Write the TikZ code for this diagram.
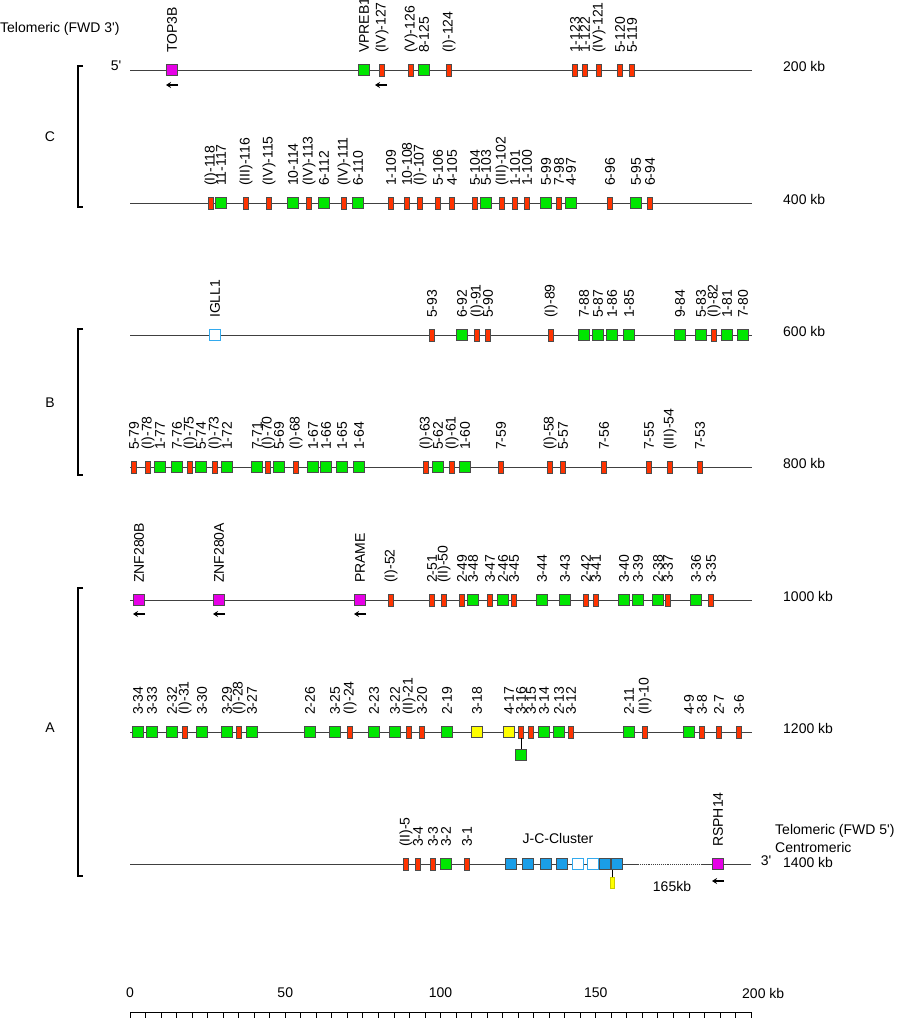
\documentclass[tikz,border=0pt]{standalone}
\usepackage{fontspec}
\setmainfont{Liberation Sans}
\usetikzlibrary{arrows.meta}

\definecolor{cRed}{HTML}{FF3300}
\definecolor{cGreen}{HTML}{00E600}
\definecolor{cMag}{HTML}{E600E6}
\definecolor{cYel}{HTML}{FFFF00}
\definecolor{cBlue}{HTML}{1A9EE8}
\definecolor{cSky}{HTML}{33AAEE}
\definecolor{cOlive}{HTML}{6B6B1E}

\newcommand{\labfont}{\fontsize{14}{16}\selectfont}

\tikzset{
  gbox/.style={draw=black!70, line width=0.8pt, minimum width=11pt,
               minimum height=11pt, inner sep=0pt},
  vred/.style={gbox, fill=cRed, minimum width=5pt, minimum height=12pt},
  vgreen/.style={gbox, fill=cGreen},
  vmag/.style={gbox, fill=cMag},
  vyel/.style={gbox, fill=cYel},
  vblue/.style={gbox, fill=cBlue},
  vopen/.style={gbox, draw=cSky, fill=white},
  glabel/.style={rotate=90, anchor=west, inner sep=0pt},
  backbone/.style={draw=black!75, line width=0.9pt},
  garrow/.style={-{Stealth[length=5pt,width=6pt]}, line width=1.2pt},
  bracket/.style={line width=1.3pt},
}

% gene box with its rotated name above
\newcommand{\Gene}[5]{%
  \node[#1] (#4) at (#2,#3) {};
  \node[glabel] (#4-lab) at (#2,#3-17) {#5};}
% reverse strand arrow under a gene
\newcommand{\Strand}[3]{%
  \coordinate (#3-s) at (#1+6,#2);
  \coordinate (#3-e) at (#1-6,#2);
  \draw[garrow] (#3-s) -- (#3-e);}

\begin{document}
\begin{tikzpicture}[x=1pt, y=-1pt, font=\labfont]
\useasboundingbox (0,0) rectangle (898,1018);

% 200 kb
\node[anchor=west, inner sep=0pt] (telo3) at (0,29) {Telomeric (FWD 3\textquotesingle)};
\node[inner sep=0pt] (p5) at (116,66) {5\textquotesingle};
\coordinate (r1a) at (130,70);
\coordinate (r1b) at (752,70);
\draw[backbone] (r1a) -- (r1b);
\node[anchor=west, inner sep=0pt] (kb200) at (783,66) {200 kb};
\Gene{vmag}{172}{70}{top3b}{TOP3B}
\Gene{vgreen}{364}{70}{vpreb1}{VPREB1}
\Gene{vred}{382}{70}{g127}{(IV)-127}
\Gene{vred}{411}{70}{g126}{(V)-126}
\Gene{vgreen}{424}{70}{g125}{8-125}
\Gene{vred}{449}{70}{g124}{(I)-124}
\Gene{vred}{575}{70}{g123}{1-123}
\Gene{vred}{585}{70}{g122}{1-122}
\Gene{vred}{599}{70}{g121}{(IV)-121}
\Gene{vred}{620}{70}{g120}{5-120}
\Gene{vred}{632}{70}{g119}{5-119}
\Strand{172}{85}{top3b}
\Strand{381}{85}{vpreb1}

% 400 kb
\coordinate (r2a) at (130,203);
\coordinate (r2b) at (752,203);
\draw[backbone] (r2a) -- (r2b);
\node[anchor=west, inner sep=0pt] (kb400) at (783,199) {400 kb};
\Gene{vred}{211}{203}{g118}{(I)-118}
\Gene{vgreen}{221}{203}{g117}{11-117}
\Gene{vred}{246}{203}{g116}{(III)-116}
\Gene{vred}{269}{203}{g115}{(IV)-115}
\Gene{vgreen}{293}{203}{g114}{10-114}
\Gene{vred}{309}{203}{g113}{(IV)-113}
\Gene{vgreen}{324}{203}{g112}{6-112}
\Gene{vred}{344}{203}{g111}{(IV)-111}
\Gene{vgreen}{358}{203}{g110}{6-110}
\Gene{vred}{391}{203}{g109}{1-109}
\Gene{vred}{407}{203}{g108}{10-108}
\Gene{vred}{420}{203}{g107}{(I)-107}
\Gene{vred}{438}{203}{g106}{5-106}
\Gene{vred}{452}{203}{g105}{4-105}
\Gene{vred}{475}{203}{g104}{5-104}
\Gene{vgreen}{486}{203}{g103}{5-103}
\Gene{vred}{502}{203}{g102}{(III)-102}
\Gene{vred}{515}{203}{g101}{1-101}
\Gene{vred}{527}{203}{g100}{1-100}
\Gene{vgreen}{546}{203}{g99}{5-99}
\Gene{vred}{559}{203}{g98}{7-98}
\Gene{vgreen}{571}{203}{g97}{4-97}
\Gene{vred}{610}{203}{g96}{6-96}
\Gene{vgreen}{636}{203}{g95}{5-95}
\Gene{vred}{650}{203}{g94}{6-94}

% 600 kb
\coordinate (r3a) at (130,335);
\coordinate (r3b) at (752,335);
\draw[backbone] (r3a) -- (r3b);
\node[anchor=west, inner sep=0pt] (kb600) at (783,331) {600 kb};
\Gene{vopen}{215}{335}{igll1}{IGLL1}
\Gene{vred}{432}{335}{g93}{5-93}
\Gene{vgreen}{462}{335}{g92}{6-92}
\Gene{vred}{477}{335}{g91}{(I)-91}
\Gene{vred}{488}{335}{g90}{5-90}
\Gene{vred}{551}{335}{g89}{(I)-89}
\Gene{vgreen}{584}{335}{g88}{7-88}
\Gene{vgreen}{598}{335}{g87}{5-87}
\Gene{vgreen}{612}{335}{g86}{1-86}
\Gene{vgreen}{629}{335}{g85}{1-85}
\Gene{vgreen}{680}{335}{g84}{9-84}
\Gene{vgreen}{701}{335}{g83}{5-83}
\Gene{vred}{714}{335}{g82}{(I)-82}
\Gene{vgreen}{727}{335}{g81}{1-81}
\Gene{vgreen}{743}{335}{g80}{7-80}

% 800 kb
\coordinate (r4a) at (130,467);
\coordinate (r4b) at (752,467);
\draw[backbone] (r4a) -- (r4b);
\node[anchor=west, inner sep=0pt] (kb800) at (783,463) {800 kb};
\Gene{vred}{134}{467}{g79}{5-79}
\Gene{vred}{148}{467}{g78}{(I)-78}
\Gene{vgreen}{160}{467}{g77}{1-77}
\Gene{vgreen}{177}{467}{g76}{7-76}
\Gene{vred}{190}{467}{g75}{(I)-75}
\Gene{vgreen}{201}{467}{g74}{5-74}
\Gene{vred}{215}{467}{g73}{(I)-73}
\Gene{vgreen}{227}{467}{g72}{1-72}
\Gene{vgreen}{257}{467}{g71}{7-71}
\Gene{vred}{268}{467}{g70}{(I)-70}
\Gene{vgreen}{279}{467}{g69}{5-69}
\Gene{vred}{296}{467}{g68}{(I)-68}
\Gene{vgreen}{313}{467}{g67}{1-67}
\Gene{vgreen}{326}{467}{g66}{1-66}
\Gene{vgreen}{342}{467}{g65}{1-65}
\Gene{vgreen}{359}{467}{g64}{1-64}
\Gene{vred}{426}{467}{g63}{(I)-63}
\Gene{vgreen}{438}{467}{g62}{5-62}
\Gene{vred}{452}{467}{g61}{(I)-61}
\Gene{vgreen}{465}{467}{g60}{1-60}
\Gene{vred}{501}{467}{g59}{7-59}
\Gene{vred}{550}{467}{g58}{(I)-58}
\Gene{vred}{563}{467}{g57}{5-57}
\Gene{vred}{604}{467}{g56}{7-56}
\Gene{vred}{649}{467}{g55}{7-55}
\Gene{vred}{670}{467}{g54}{(III)-54}
\Gene{vred}{700}{467}{g53}{7-53}

% 1000 kb
\coordinate (r5a) at (130,600);
\coordinate (r5b) at (752,600);
\draw[backbone] (r5a) -- (r5b);
\node[anchor=west, inner sep=0pt] (kb1000) at (783,596) {1000 kb};
\Gene{vmag}{139}{600}{znfb}{ZNF280B}
\Gene{vmag}{219}{600}{znfa}{ZNF280A}
\Gene{vmag}{360}{600}{prame}{PRAME}
\Gene{vred}{391}{600}{g52}{(I)-52}
\Gene{vred}{432}{600}{g51}{2-51}
\Gene{vred}{444}{600}{g50}{(II)-50}
\Gene{vred}{462}{600}{g49}{2-49}
\Gene{vgreen}{473}{600}{g48}{3-48}
\Gene{vred}{490}{600}{g47}{3-47}
\Gene{vgreen}{503}{600}{g46}{2-46}
\Gene{vred}{514}{600}{g45}{3-45}
\Gene{vgreen}{542}{600}{g44}{3-44}
\Gene{vgreen}{565}{600}{g43}{3-43}
\Gene{vred}{586}{600}{g42}{2-42}
\Gene{vred}{596}{600}{g41}{3-41}
\Gene{vgreen}{624}{600}{g40}{3-40}
\Gene{vgreen}{638}{600}{g39}{3-39}
\Gene{vgreen}{658}{600}{g38}{2-38}
\Gene{vred}{668}{600}{g37}{3-37}
\Gene{vgreen}{696}{600}{g36}{3-36}
\Gene{vred}{711}{600}{g35}{3-35}
\Strand{139}{614}{znfb}
\Strand{219}{614}{znfa}
\Strand{360}{614}{prame}

% 1200 kb
\coordinate (r6a) at (130,732);
\coordinate (r6b) at (752,732);
\draw[backbone] (r6a) -- (r6b);
\node[anchor=west, inner sep=0pt] (kb1200) at (783,728) {1200 kb};
\Gene{vgreen}{138}{732}{g34}{3-34}
\Gene{vgreen}{152}{732}{g33}{3-33}
\Gene{vgreen}{172}{732}{g32}{2-32}
\Gene{vred}{185}{732}{g31}{(I)-31}
\Gene{vgreen}{202}{732}{g30}{3-30}
\Gene{vgreen}{227}{732}{g29}{3-29}
\Gene{vred}{239}{732}{g28}{(I)-28}
\Gene{vgreen}{252}{732}{g27}{3-27}
\Gene{vgreen}{310}{732}{g26}{2-26}
\Gene{vgreen}{335}{732}{g25}{3-25}
\Gene{vred}{350}{732}{g24}{(I)-24}
\Gene{vgreen}{374}{732}{g23}{2-23}
\Gene{vgreen}{395}{732}{g22}{3-22}
\Gene{vred}{409}{732}{g21}{(II)-21}
\Gene{vred}{422}{732}{g20}{3-20}
\Gene{vgreen}{447}{732}{g19}{2-19}
\Gene{vyel}{477}{732}{g18}{3-18}
\Gene{vyel}{509}{732}{g17}{4-17}
\Gene{vred}{521}{732}{g16}{3-16}
\Gene{vred}{531}{732}{g15}{3-15}
\Gene{vgreen}{544}{732}{g14}{3-14}
\Gene{vgreen}{559}{732}{g13}{2-13}
\Gene{vred}{571}{732}{g12}{3-12}
\Gene{vgreen}{629}{732}{g11}{2-11}
\Gene{vred}{645}{732}{g10}{(II)-10}
\Gene{vgreen}{689}{732}{g9}{4-9}
\Gene{vred}{702}{732}{g8}{3-8}
\Gene{vred}{719}{732}{g7}{2-7}
\Gene{vred}{739}{732}{g6}{3-6}
\node[vgreen] (g16b) at (521,755) {};
\draw[line width=0.8pt] (g16) -- (g16b);

% 1400 kb
\coordinate (r7a) at (130,864);
\coordinate (r7b) at (638,864);
\coordinate (r7c) at (701,864);
\coordinate (r7d) at (751,864);
\draw[backbone] (r7a) -- (r7b);
\draw[backbone, densely dotted, line width=0.6pt] (r7b) -- (r7c);
\draw[backbone] (r7c) -- (r7d);
\node[anchor=west, inner sep=0pt] (telo5) at (775,831) {Telomeric (FWD 5\textquotesingle)};
\node[anchor=west, inner sep=0pt] (centro) at (775,847) {Centromeric};
\node[inner sep=0pt] (p3) at (766,861) {3\textquotesingle};
\node[anchor=west, inner sep=0pt] (kb1400) at (783,862) {1400 kb};
\Gene{vred}{406}{864}{g5}{(II)-5}
\Gene{vred}{418}{864}{g4}{3-4}
\Gene{vred}{433}{864}{g3}{3-3}
\Gene{vgreen}{446}{864}{g2}{3-2}
\Gene{vred}{467}{864}{g1}{3-1}
\node[gbox, fill=cOlive, minimum width=3pt] (jc0) at (507,864) {};
\node[vblue] (jc1) at (511,864) {};
\node[vblue] (jc2) at (528,864) {};
\node[vblue] (jc3) at (546,864) {};
\node[vblue] (jc4) at (562,864) {};
\node[vopen] (jc5) at (578,864) {};
\node[vopen] (jc6) at (593,864) {};
\node[vblue] (jc7) at (605,864) {};
\node[vblue] (jc8) at (617,864) {};
\node (jclab) at (558,838) {J-C-Cluster};
\node[draw=cYel!80!black, fill=cYel, minimum width=4pt, minimum height=11pt, inner sep=0pt] (jcy) at (612,883) {};
\draw[line width=0.8pt] (jcy.north) -- (jcy.north |- jc8.south);
\node (gap) at (672,886) {165kb};
\Gene{vmag}{718}{864}{rsph14}{RSPH14}
\Strand{718}{881}{rsph14}

% contigs
\draw[bracket] (83,66) -- (78,66) -- (78,207) -- (83,207);
\node (cC) at (50,137) {C};
\draw[bracket] (83,329) -- (78,329) -- (78,475) -- (83,475);
\node (cB) at (50,403) {B};
\draw[bracket] (83,588) -- (78,588) -- (78,876) -- (83,876);
\node (cA) at (50,728) {A};

% scale
\coordinate (ax0) at (130,1012);
\coordinate (ax1) at (751,1012);
\draw[line width=0.8pt] (ax0) -- (ax1);
\foreach \k in {0,5,...,200}
  \draw[line width=0.8pt] (130+3.105*\k,1012) -- (130+3.105*\k,1018);
\foreach \k in {0,50,100,150}
  \node (t\k) at (130+3.105*\k,993) {\k};
\node[anchor=west, inner sep=0pt] (t200) at (742,993) {200 kb};

\end{tikzpicture}
\end{document}
